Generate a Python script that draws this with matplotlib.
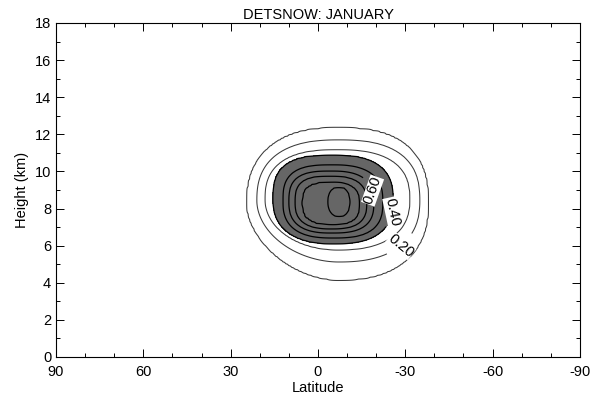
import numpy as np
import matplotlib
matplotlib.use("Agg")
import matplotlib.pyplot as plt

plt.rcParams['font.family'] = ['Liberation Sans', 'DejaVu Sans']

# Contour levels and the extents of each closed contour
levels = [0.1, 0.2, 0.3, 0.4, 0.5, 0.6, 0.7, 0.8, 0.9]
north_lat = [24.4, 21.0, 18.2, 15.5, 12.0, 10.0, 7.9, 5.5, -3.4]
south_lat = [-37.8, -35.0, -31.6, -25.8, -22.3, -19.2, -16.8, -14.4, -11.0]
top_km = [12.34, 11.70, 11.16, 10.89, 10.35, 10.02, 9.75, 9.43, 9.16]
bottom_km = [4.15, 5.12, 5.77, 6.09, 6.41, 6.68, 6.90, 7.11, 7.55]
# squareness of each contour in its four quadrants (upper-N, lower-N, upper-S, lower-S)
power_upper_north = [2.4, 2.5, 2.6, 2.9, 3.0, 3.0, 3.0, 3.0, 2.4]
power_lower_north = [1.8, 1.9, 2.0, 2.4, 2.6, 2.6, 2.6, 2.6, 2.2]
power_upper_south = [2.6, 2.6, 2.6, 2.6, 2.6, 2.6, 2.6, 2.6, 2.4]
power_lower_south = [2.4, 2.4, 2.4, 2.6, 2.8, 2.8, 2.8, 2.8, 2.4]

label_levels = [0.2, 0.4, 0.6]
label_pos = [(-27.5, 6.2), (-26.5, 7.8), (-19.5, 9.0)]

xticks = [90, 60, 30, 0, -30, -60, -90]
yticks = [0, 2, 4, 6, 8, 10, 12, 14, 16, 18]

# Build the gridded field from the read contour shapes
lat = np.linspace(-90, 90, 361)
hgt = np.linspace(0, 18, 181)
LAT, H = np.meshgrid(lat, hgt)
D = []
for k in range(len(levels)):
    cx = 0.5 * (north_lat[k] + south_lat[k])
    a = 0.5 * (north_lat[k] - south_lat[k])
    cy = 0.5 * (top_km[k] + bottom_km[k])
    b = 0.5 * (top_km[k] - bottom_km[k])
    north = LAT >= cx
    upper = H >= cy
    n = np.where(north & upper, power_upper_north[k],
        np.where(north & ~upper, power_lower_north[k],
        np.where(~north & upper, power_upper_south[k], power_lower_south[k])))
    D.append((np.abs((LAT - cx) / a) ** n + np.abs((H - cy) / b) ** n) ** (1.0 / n))
D = np.maximum.accumulate(np.array(D), axis=0)
lev = np.array(levels)
Z = np.zeros_like(LAT)
outside = D[0] > 1
Z[outside] = lev[0] / D[0][outside]
for k in range(len(levels) - 1):
    m = (D[k] <= 1) & (D[k + 1] > 1)
    Z[m] = lev[k] + (1 - D[k][m]) / (D[k + 1][m] - D[k][m]) * 0.1
inner = D[-1] <= 1
Z[inner] = lev[-1] + 0.1 * (1 - D[-1][inner])

fig = plt.figure(figsize=(5.96, 3.96), dpi=100)
ax = fig.add_axes([0.094, 0.0985, 0.879, 0.8435])

ax.contourf(LAT, H, Z, levels=[0.4, 10], colors=['#666666'])

texts = []
for lv in levels:
    if lv < 0.35:
        cs = ax.contour(LAT, H, Z, levels=[lv], colors='#3a3a3a', linewidths=0.75)
    else:
        cs = ax.contour(LAT, H, Z, levels=[lv], colors='black', linewidths=0.9)
    for ll, pos in zip(label_levels, label_pos):
        if abs(ll - lv) < 1e-6:
            t = ax.clabel(cs, manual=[pos], fmt='%.2f', fontsize=10.5,
                          inline=True, inline_spacing=2, colors='black')
            texts.extend(t)
for t in texts:
    t.set_bbox(dict(facecolor='white', edgecolor='none', pad=0.1))

ax.set_xlim(90, -90)
ax.set_ylim(0, 18)
ax.set_xticks(xticks)
ax.set_xticklabels([str(v) for v in xticks])
ax.set_yticks(yticks)
ax.set_xticks(np.arange(-90, 91, 10), minor=True)
ax.set_yticks(np.arange(0, 19, 1), minor=True)
ax.tick_params(which='both', direction='in', top=True, right=True, labelsize=10.5, width=0.7)
ax.tick_params(which='major', length=6)
ax.tick_params(which='minor', length=3)
ax.tick_params(axis='x', pad=6)
for s in ax.spines.values():
    s.set_linewidth(0.8)

ax.set_xlabel('Latitude', fontsize=10.5, labelpad=1)
ax.set_ylabel('Height (km)', fontsize=10.5, labelpad=4)
ax.set_title('DETSNOW: JANUARY', fontsize=10.5, pad=3)

fig.savefig('out.png', dpi=100)
